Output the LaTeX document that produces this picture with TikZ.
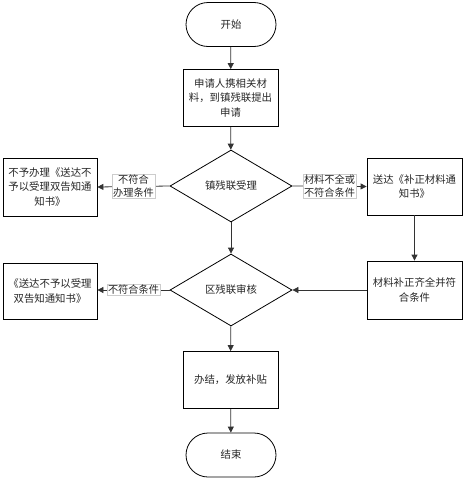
\documentclass[tikz,border=0pt]{standalone}
\usepackage{fontspec}
\setmainfont{Noto Sans CJK SC}
\usetikzlibrary{shapes.geometric,arrows.meta}
\begin{document}
\begin{tikzpicture}[x=1pt,y=-1pt,
  font=\fontsize{10.4}{14.5}\selectfont,
  every node/.style={align=center, text=black!85},
  term/.style={draw, rounded corners=22pt, minimum width=90pt, minimum height=44pt, line width=0.8pt},
  box/.style={draw, minimum width=95pt, minimum height=57pt, line width=0.8pt, inner sep=2pt},
  dia/.style={draw, diamond, minimum width=122pt, minimum height=72pt, inner sep=0pt, line width=0.8pt},
  lab/.style={fill=white, draw=black!20, inner sep=1pt, line width=0.5pt, font=\fontsize{10.2}{13}\selectfont},
  conn/.style={draw=black!80, line width=0.8pt, -{Triangle[length=6pt,width=6pt]}}
]
\useasboundingbox (0,0) rectangle (465,482);
\node[term] (start) at (231,24.5) {开始};
\node[box] (apply) at (230.5,98) {申请人携相关材\\料，到镇残联提出\\申请};
\node[dia] (town) at (231,186) {镇残联受理};
\node[box, minimum width=94pt, minimum height=58pt] (rejA) at (50,187) {不予办理《送达不\\予以受理双告知通\\知书》};
\node[box, minimum width=95pt, minimum height=57pt] (fix) at (414.5,186.5) {送达《补正材料通\\知书》};
\node[dia] (dist) at (231,290) {区残联审核};
\node[box, minimum width=94pt, minimum height=56pt] (rejB) at (50,291) {《送达不予以受理\\双告知通知书》};
\node[box, minimum width=95pt, minimum height=58pt] (ok) at (414.5,290) {材料补正齐全并符\\合条件};
\node[box] (done) at (230.5,380) {办结，发放补贴};
\node[term] (end) at (231,455) {结束};

\draw[conn] (start) -- (apply);
\draw[conn] (apply) -- (town);
\draw[conn] (town) -- (dist);
\draw[conn] (dist) -- (done);
\draw[conn] (done) -- (end);
\draw[conn] (town.west) -- (rejA.east) node[lab, pos=0.5] {不符合\\办理条件};
\draw[conn] (town.east) -- (fix.west) node[lab, pos=0.5] {材料不全或\\不符合条件};
\draw[conn] (fix) -- (ok);
\draw[conn] (ok.west) -- (dist.east);
\draw[conn] (dist.west) -- (rejB.east |- dist.west) node[lab, pos=0.5] {不符合条件};
\end{tikzpicture}
\end{document}
